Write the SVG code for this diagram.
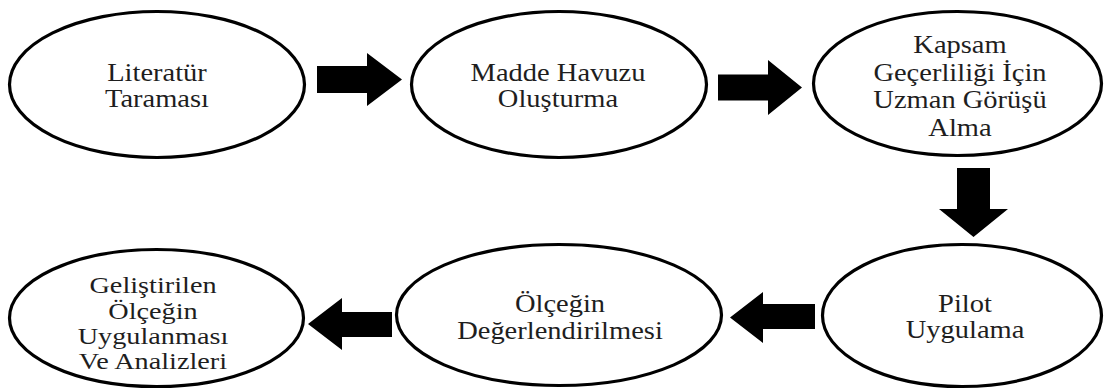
<svg xmlns="http://www.w3.org/2000/svg" width="1105" height="390" viewBox="0 0 1105 390">
<style>
.node ellipse{fill:#fff;stroke:#000;stroke-width:3.2}
.node text{font-family:'Liberation Serif','DejaVu Serif','Times New Roman',serif;font-size:25px;fill:#1e1e1e;text-anchor:middle}
.arrow{fill:#000}
</style>
<rect width="1105" height="390" fill="#fff"/>
<g id="connectors">
<polygon class="arrow" points="317,66 367,66 367,53 402,79.5 367,106 367,93 317,93"/>
<polygon class="arrow" points="718,74.5 768,74.5 768,60 802,87.5 768,115 768,100.5 718,100.5"/>
<polygon class="arrow" points="957,168 990,168 990,209 1008,209 973.5,237 939,209 957,209"/>
<polygon class="arrow" points="815,304 763,304 763,292 730,317.5 763,343 763,329 815,329"/>
<polygon class="arrow" points="392,312 342,312 342,298 308,324 342,350 342,337 392,337"/>
</g>
<g id="n1" class="node">
<ellipse cx="157" cy="84.5" rx="147.5" ry="73"/>
<g transform="translate(157 0) scale(1.14 1)"><text x="0" y="81">Literatür</text><text x="0" y="107">Taraması</text></g>
</g>
<g id="n2" class="node">
<ellipse cx="559" cy="84.5" rx="147.5" ry="73"/>
<g transform="translate(558 0) scale(1.14 1)"><text x="0" y="81">Madde Havuzu</text><text x="0" y="107">Oluşturma</text></g>
</g>
<g id="n3" class="node">
<ellipse cx="957.5" cy="83.5" rx="144" ry="72"/>
<g transform="translate(960 0) scale(1.14 1)"><text x="0" y="53.5">Kapsam</text><text x="0" y="81">Geçerliliği İçin</text><text x="0" y="108.5">Uzman Görüşü</text><text x="0" y="136">Alma</text></g>
</g>
<g id="n4" class="node">
<ellipse cx="962" cy="315.5" rx="139.5" ry="71"/>
<g transform="translate(965 0) scale(1.14 1)"><text x="0" y="312">Pilot</text><text x="0" y="338">Uygulama</text></g>
</g>
<g id="n5" class="node">
<ellipse cx="559" cy="315" rx="162.5" ry="70.5"/>
<g transform="translate(560 0) scale(1.14 1)"><text x="0" y="312">Ölçeğin</text><text x="0" y="339">Değerlendirilmesi</text></g>
</g>
<g id="n6" class="node">
<ellipse cx="156.5" cy="318" rx="147" ry="68.5"/>
<g transform="translate(153 0) scale(1.25 1)"><text x="0" y="293.5" style="font-size:22.6px">Geliştirilen</text><text x="0" y="318.7" style="font-size:22.6px">Ölçeğin</text><text x="0" y="343.9" style="font-size:22.6px">Uygulanması</text><text x="0" y="369.1" style="font-size:22.6px">Ve Analizleri</text></g>
</g>
</svg>
